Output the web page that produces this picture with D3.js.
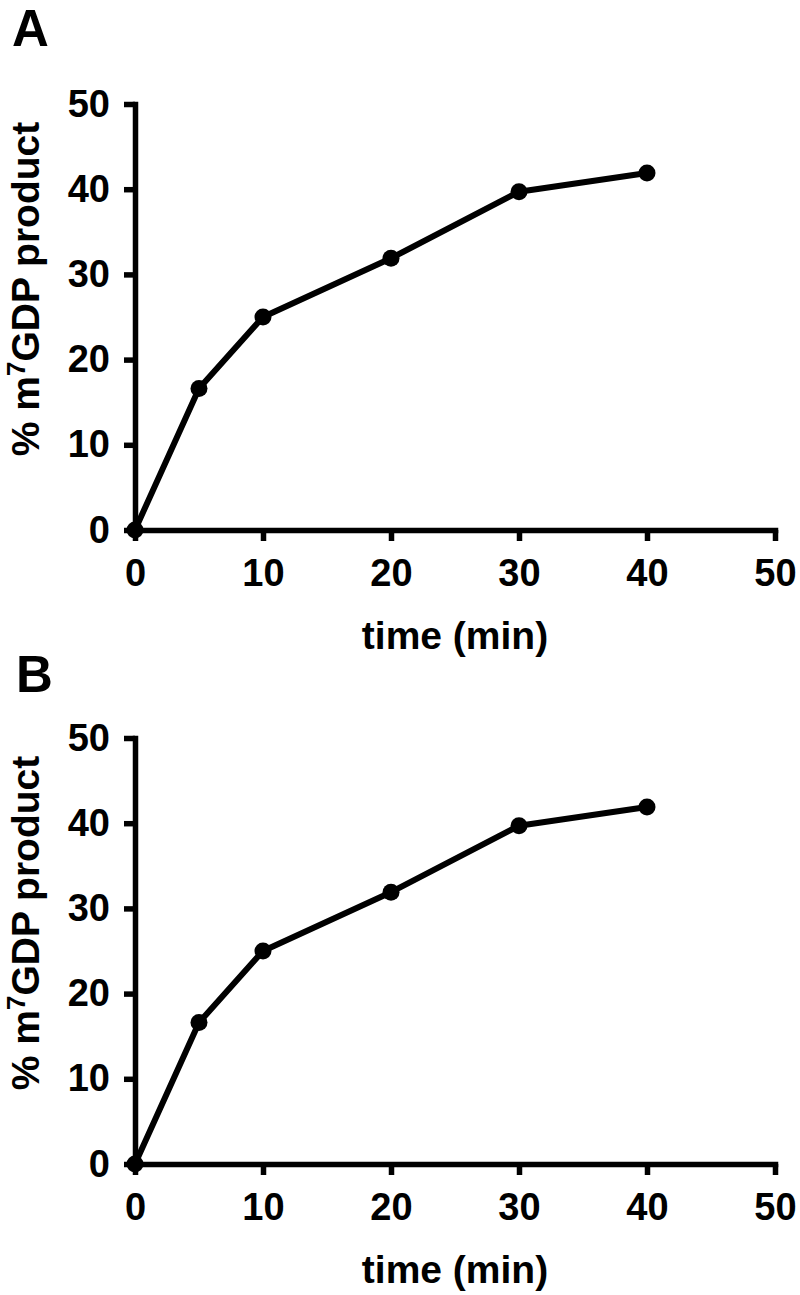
<!DOCTYPE html>
<html>
<head>
<meta charset="utf-8">
<script src="https://cdn.jsdelivr.net/npm/d3@7"></script>
<style>
  body { margin: 0; background: #fff; }
  svg text { font-family: "Liberation Sans", Arial, sans-serif; font-weight: bold; fill: #000; }
</style>
</head>
<body>
<div id="chart"></div>
<script>
// Data
const panelLabels = ["A", "B"];
const timeMin = [0, 5, 10, 20, 30, 40];
const productA = [0, 16.6, 25.0, 31.9, 39.7, 41.9];
const productB = [0, 16.6, 25.0, 31.9, 39.7, 41.9];
const xTicks = [0, 10, 20, 30, 40, 50];
const yTicks = [0, 10, 20, 30, 40, 50];
const xTitle = "time (min)";

const width = 800;
const height = 1295;
const panelOffset = [0, 634];
const margin = { top: 104, left: 135, right: 25, plotH: 426 };

const svg = d3
  .select("#chart")
  .append("svg")
  .attr("width", width)
  .attr("height", height);

const x = d3
  .scaleLinear()
  .domain([0, 50])
  .range([margin.left, width - margin.right]);

const y = d3
  .scaleLinear()
  .domain([0, 50])
  .range([margin.top + margin.plotH, margin.top]);

const seriesList = [productA, productB];

panelLabels.forEach((label, i) => {
  const g = svg.append("g").attr("transform", `translate(0,${panelOffset[i]})`);
  const values = seriesList[i];

  // Panel letter
  g.append("text")
    .attr("x", i === 0 ? 12 : 16)
    .attr("y", i === 0 ? 46 : 58)
    .attr("font-size", "51px")
    .text(label);

  // Axes
  const xAxis = g
    .append("g")
    .attr("transform", `translate(0,${y(0)})`)
    .call(d3.axisBottom(x).tickValues(xTicks).tickSize(11).tickSizeOuter(0).tickPadding(18));

  const yAxis = g
    .append("g")
    .attr("transform", `translate(${x(0)},0)`)
    .call(d3.axisLeft(y).tickValues(yTicks).tickSize(11).tickSizeOuter(0).tickPadding(14));

  [xAxis, yAxis].forEach(ax => {
    ax.select(".domain").attr("stroke", "#000").attr("stroke-width", 5.5).attr("stroke-linecap", "square");
    ax.selectAll(".tick line").attr("stroke", "#000").attr("stroke-width", 5.5);
    ax.selectAll(".tick text")
      .attr("font-size", "38px")
      .attr("font-family", "Liberation Sans, Arial, sans-serif")
      .attr("font-weight", "bold")
      .attr("fill", "#000");
  });

  // Line
  const line = d3
    .line()
    .x((d, j) => x(timeMin[j]))
    .y(d => y(d));

  g.append("path")
    .datum(values)
    .attr("fill", "none")
    .attr("stroke", "#000")
    .attr("stroke-width", 6)
    .attr("stroke-linejoin", "round")
    .attr("d", line);

  g.selectAll("circle")
    .data(values)
    .join("circle")
    .attr("cx", (d, j) => x(timeMin[j]))
    .attr("cy", d => y(d))
    .attr("r", 8.5)
    .attr("fill", "#000");

  // Axis titles
  g.append("text")
    .attr("x", (x(0) + x(50)) / 2)
    .attr("y", y(0) + 119)
    .attr("text-anchor", "middle")
    .attr("font-size", "39px")
    .text(xTitle);

  const yt = g
    .append("text")
    .attr("transform", `translate(39,${289}) rotate(-90)`)
    .attr("text-anchor", "middle")
    .attr("font-size", "39px");
  yt.append("tspan").text("% m");
  yt.append("tspan").attr("font-size", "26px").attr("dy", "-14").text("7");
  yt.append("tspan").attr("dy", "14").text("GDP product");
});
</script>
</body>
</html>
